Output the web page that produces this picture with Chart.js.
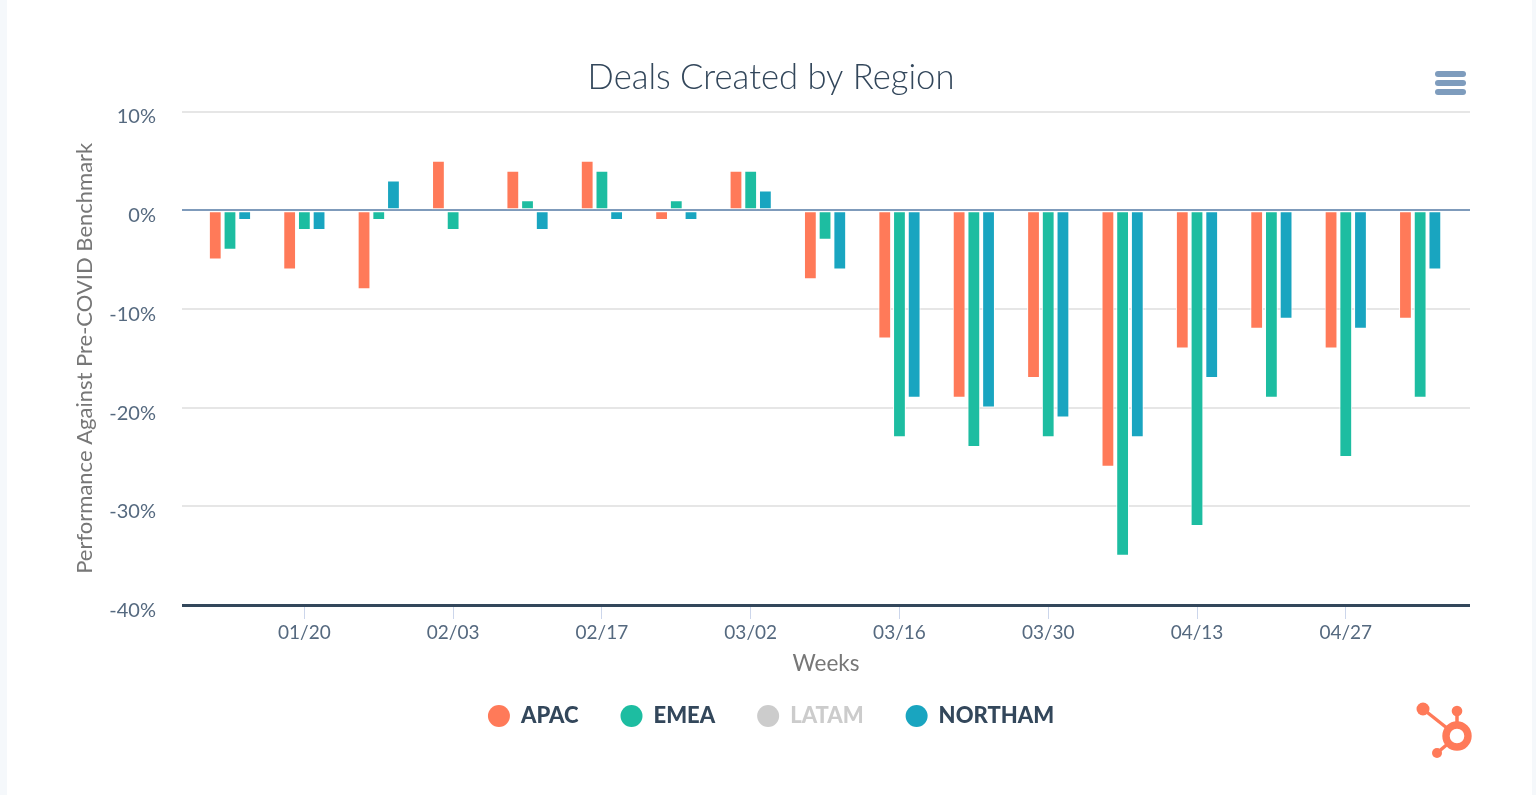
<!DOCTYPE html>
<html>
<head>
<meta charset="utf-8">
<title>Deals Created by Region</title>
<script src="https://cdn.jsdelivr.net/npm/chart.js@4"></script>
<style>
    html, body { margin: 0; padding: 0; width: 1536px; height: 795px; overflow: hidden; background: #f5f8fb; }
    #card { position: absolute; left: 7px; top: 0; width: 1525px; height: 795px; background: #fff; }
    #grafico { position: absolute; left: 0; top: 0; }
    #menu { position: absolute; left: 1435px; top: 71px; width: 31px; }
    #menu div { height: 5.5px; margin-bottom: 3.5px; border-radius: 3px; background: #7e9cbd; }
    #logo { position: absolute; left: 1410px; top: 698px; }
</style>
</head>
<body>
<div id="card"></div>
<canvas id="grafico" width="1536" height="795"></canvas>
<div id="menu"><div></div><div></div><div></div></div>
<svg id="logo" width="70" height="65" viewBox="1410 698 70 65">
    <g fill="#ff7a59" stroke="#ff7a59">
        <circle cx="1423" cy="709" r="6.5" stroke="none"/>
        <circle cx="1457" cy="711" r="5.3" stroke="none"/>
        <circle cx="1437" cy="753" r="5" stroke="none"/>
        <line x1="1423" y1="709" x2="1457" y2="736" stroke-width="3.5"/>
        <line x1="1457" y1="711" x2="1457" y2="736" stroke-width="3.5"/>
        <line x1="1437" y1="753" x2="1457" y2="736" stroke-width="3.5"/>
        <circle cx="1457" cy="736" r="11" fill="#fff" stroke-width="7.4"/>
    </g>
</svg>
<script>
// Dados do gráfico
const semanas = ['01/13', '01/20', '01/27', '02/03', '02/10', '02/17', '02/24', '03/02', '03/09',
    '03/16', '03/23', '03/30', '04/06', '04/13', '04/20', '04/27', '05/04'];
const apac = [-5, -6, -8, 5, 4, 5, -1, 4, -7, -13, -19, -17, -26, -14, -12, -14, -11];
const emea = [-4, -2, -1, -2, 1, 4, 1, 4, -3, -23, -24, -23, -35, -32, -19, -25, -19];
const latam = [];
const northam = [-1, -2, 3, 0, -2, -1, -1, 2, -6, -19, -20, -21, -23, -17, -11, -12, -6];
const ticksY = [-40, -30, -20, -10, 0, 10];
const ticksX = [1, 3, 5, 7, 9, 11, 13, 15];

const fonte = 'Lato, sans-serif';

const pontos = (valores) => valores.map((v, i) => ({ x: i, y: v }));

const serie = (label, valores, cor, hidden) => ({
    label: label,
    data: pontos(valores),
    backgroundColor: cor,
    borderColor: '#ffffff',
    borderWidth: 1,
    borderSkipped: false,
    hidden: hidden,
    categoryPercentage: 0.593,
    barPercentage: 0.87
});

new Chart(document.getElementById('grafico'), {
    type: 'bar',
    data: {
        datasets: [
            serie('APAC', apac, '#ff7a59', false),
            serie('EMEA', emea, '#1dbda1', false),
            serie('LATAM', latam, '#cccccc', true),
            serie('NORTHAM', northam, '#19a5c0', false)
        ]
    },
    options: {
        responsive: false,
        animation: false,
        devicePixelRatio: 1,
        layout: { padding: { top: 0, right: 0, bottom: 58, left: 6 } },
        plugins: {
            tooltip: { enabled: false },
            title: {
                display: true,
                text: 'Deals Created by Region',
                color: '#33475b',
                font: { family: fonte, size: 34.6, weight: 300 },
                padding: { top: 57, bottom: 13 }
            },
            legend: {
                position: 'bottom',
                onClick: null,
                labels: {
                    usePointStyle: true,
                    pointStyleWidth: 22,
                    boxHeight: 15.5,
                    padding: 42,
                    font: { family: fonte, size: 22, weight: 900 },
                    generateLabels: (chart) => chart.data.datasets.map((ds, i) => ({
                        text: ds.label,
                        fillStyle: ds.backgroundColor,
                        strokeStyle: ds.backgroundColor,
                        fontColor: ds.hidden ? '#cccccc' : '#33475b',
                        lineWidth: 0,
                        hidden: false,
                        pointStyle: 'circle',
                        datasetIndex: i
                    }))
                }
            }
        },
        scales: {
            x: {
                type: 'linear',
                offset: false,
                min: -0.645,
                max: 16.67,
                afterBuildTicks: (scale) => { scale.ticks = ticksX.map(v => ({ value: v })); },
                afterFit: (scale) => { scale.height = 58; },
                border: { display: false },
                grid: { offset: false, drawOnChartArea: false, drawTicks: true, tickLength: 14, tickColor: '#ccd6eb', lineWidth: 1 },
                ticks: {
                    autoSkip: false,
                    maxRotation: 0,
                    padding: 2,
                    color: '#55697f',
                    font: { family: fonte, size: 19 },
                    callback: (v) => semanas[v]
                },
                title: {
                    display: true,
                    text: 'Weeks',
                    color: '#777777',
                    font: { family: fonte, size: 22.5 },
                    padding: { top: 4, bottom: -14 }
                }
            },
            y: {
                min: -40,
                max: 10,
                afterBuildTicks: (scale) => { scale.ticks = ticksY.map(v => ({ value: v })); },
                afterFit: (scale) => { scale.width = 176; },
                border: { display: false },
                grid: {
                    drawTicks: false,
                    color: (ctx) => ctx.tick.value === -40 ? '#33475b' : ctx.tick.value === 0 ? '#7f9bbb' : '#e6e6e6',
                    lineWidth: (ctx) => ctx.tick.value === -40 ? 3 : 2
                },
                ticks: {
                    padding: 26,
                    labelOffset: 5.5,
                    color: '#55697f',
                    font: { family: fonte, size: 20 },
                    callback: (v) => v + '%'
                },
                title: {
                    display: true,
                    text: 'Performance Against Pre-COVID Benchmark',
                    color: '#777777',
                    font: { family: fonte, size: 22 },
                    padding: { top: 66, bottom: 0 }
                }
            },
            // Eixo vazio só para reservar a margem direita sem descentralizar título e legenda
            margem: {
                position: 'right',
                afterFit: (scale) => { scale.width = 66; },
                border: { display: false },
                grid: { display: false },
                ticks: { display: false }
            }
        }
    }
});
</script>
</body>
</html>
